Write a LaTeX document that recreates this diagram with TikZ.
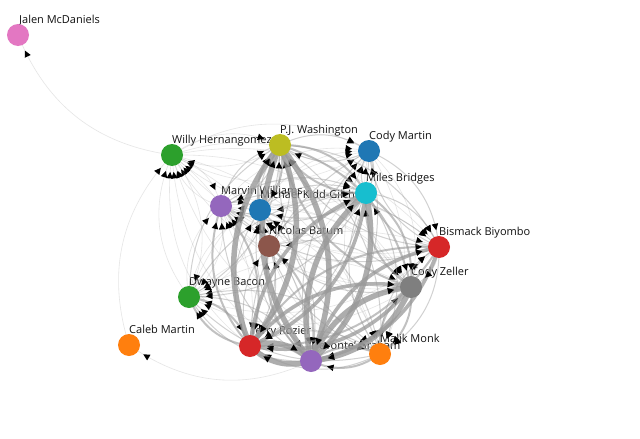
\documentclass[tikz,border=0pt]{standalone}
\usepackage{fontspec}
\setmainfont{Open Sans}
\usetikzlibrary{decorations.markings}
\definecolor{lk}{HTML}{999999}
\definecolor{cpink}{HTML}{E377C2}
\definecolor{cgreen}{HTML}{2CA02C}
\definecolor{colive}{HTML}{BCBD22}
\definecolor{cblue}{HTML}{1F77B4}
\definecolor{ccyan}{HTML}{17BECF}
\definecolor{cpurple}{HTML}{9467BD}
\definecolor{cbrown}{HTML}{8C564B}
\definecolor{cred}{HTML}{D62728}
\definecolor{cgrey}{HTML}{7F7F7F}
\definecolor{corange}{HTML}{FF7F0E}
\definecolor{ctext}{HTML}{111111}
\pgfdeclarelayer{bg}
\pgfdeclarelayer{lab}
\pgfdeclarelayer{edg}
\pgfsetlayers{bg,lab,edg,main}
\tikzset{
  pl/.style={circle,inner sep=0pt,minimum size=22pt,fill=#1,draw=none},
  lbl/.style={anchor=base west,inner sep=0pt,font=\fontsize{11}{12}\selectfont,text=ctext},
  lnk/.style={draw=lk,postaction={decorate},
    decoration={markings,mark=at position -17pt with {\fill[black,fill opacity=1] (0pt,0pt)--(-6.5pt,3.3pt)--(-6.5pt,-3.3pt)--cycle;}}},
  wa/.style={lnk,line width=0.6pt,draw opacity=0.25},
  wb/.style={lnk,line width=1pt,draw opacity=0.45},
  wc/.style={lnk,line width=2pt,draw opacity=0.6},
  wd/.style={lnk,line width=3.6pt,draw opacity=0.75},
  we/.style={lnk,line width=5.5pt,draw opacity=0.8}
}
\begin{document}
\begin{tikzpicture}[x=1pt,y=-1pt]
\begin{pgfonlayer}{bg}
\fill[white] (0,0) rectangle (640,439);
\end{pgfonlayer}
\useasboundingbox (0,0) rectangle (640,439);
% circles
\node[pl=cpink]   (JM)  at (18,35) {};
\node[pl=cgreen]  (W)   at (172,155) {};
\node[pl=corange] (CaM) at (129,345) {};
\node[pl=cgreen]  (DB)  at (189,297) {};
\node[pl=cpurple] (MW)  at (221,206) {};
\node[pl=cblue]   (MKG) at (260,210) {};
\node[pl=cbrown]  (NB)  at (269,246) {};
\node[pl=colive]  (PJ)  at (280,145) {};
\node[pl=cblue]   (CM)  at (369,151) {};
\node[pl=ccyan]   (MB)  at (366,193) {};
\node[pl=cred]    (BB)  at (439,247) {};
\node[pl=cgrey]   (CZ)  at (411,287) {};
\node[pl=cred]    (TR)  at (250,346) {};
\node[pl=corange] (MM)  at (380,354) {};
\node[pl=cpurple] (DG)  at (311,361) {};
% labels
\begin{pgfonlayer}{lab}
\node[lbl] (tJM)  at (19,23.5) {Jalen McDaniels};
\node[lbl] (tW)   at (172,143.5) {Willy Hernangomez};
\node[lbl] (tCaM) at (129,333.5) {Caleb Martin};
\node[lbl] (tDB)  at (189,285.5) {Dwayne Bacon};
\node[lbl] (tMW)  at (221,194.5) {Marvin Williams};
\node[lbl] (tMKG) at (260,198.5) {Michael Kidd-Gilchrist};
\node[lbl] (tNB)  at (269,234.5) {Nicolas Batum};
\node[lbl] (tPJ)  at (280,133.5) {P.J. Washington};
\node[lbl] (tCM)  at (369,139.5) {Cody Martin};
\node[lbl] (tMB)  at (366,181.5) {Miles Bridges};
\node[lbl] (tBB)  at (439,235.5) {Bismack Biyombo};
\node[lbl] (tCZ)  at (411,275.5) {Cody Zeller};
\node[lbl] (tTR)  at (250,334.5) {Terry Rozier};
\node[lbl] (tMM)  at (380,342.5) {Malik Monk};
\node[lbl] (tDG)  at (311,349.5) {Devonte' Graham};
\end{pgfonlayer}
% links
\begin{pgfonlayer}{edg}
\draw[style=wa] (W.center) to[bend left=30] (JM.center);
\draw[style=wa] (DG.center) to[bend left=30] (CaM.center);
\draw[style=wa] (CaM.center) to[bend left=30] (W.center);
\foreach \s/\t/\w in {
  W/DG/wa, W/TR/wa, W/PJ/wa, W/MB/wa, W/CZ/wa, W/BB/wa, W/MM/wa, W/MW/wa, W/DB/wa, W/CM/wa,
  CM/DG/wb, CM/TR/wb, CM/PJ/wb, CM/MB/wb, CM/CZ/wa, CM/BB/wb, CM/MM/wa, CM/MKG/wa, CM/MW/wa, CM/DB/wa,
  DB/DG/wb, DB/TR/wc, DB/PJ/wb, DB/MB/wb, DB/CZ/wa, DB/BB/wa, DB/MM/wb, DB/MW/wa, DB/MKG/wa,
  MW/DG/wb, MW/TR/wc, MW/PJ/wb, MW/MB/wb, MW/CZ/wa, MW/BB/wb, MW/MM/wa, MW/NB/wa,
  MKG/DG/wb, MKG/TR/wb, MKG/PJ/wc, MKG/MB/wb, MKG/CZ/wa, MKG/MW/wb, MKG/BB/wa, MKG/MM/wb,
  NB/DG/wc, NB/TR/wb, NB/PJ/wb, NB/MB/wb, NB/CZ/wb, NB/MM/wa, NB/MKG/wa,
  DG/MM/wc, TR/MM/wb, MB/MM/wb, PJ/MM/wb, CZ/MM/wc, BB/MM/wb,
  DG/BB/wd, TR/BB/wc, MB/BB/wb, PJ/BB/wb, CZ/BB/wb,
  PJ/CZ/wc, MB/CZ/wc, TR/CZ/wd, DG/CZ/we,
  PJ/MB/wc, TR/MB/wd, DG/MB/we,
  DG/PJ/we, TR/PJ/we, TR/DG/we}
{
  \draw[style=\w] (\s.center) to[bend left=30] (\t.center);
  \draw[style=\w] (\t.center) to[bend left=30] (\s.center);
}
\end{pgfonlayer}
\end{tikzpicture}
\end{document}
